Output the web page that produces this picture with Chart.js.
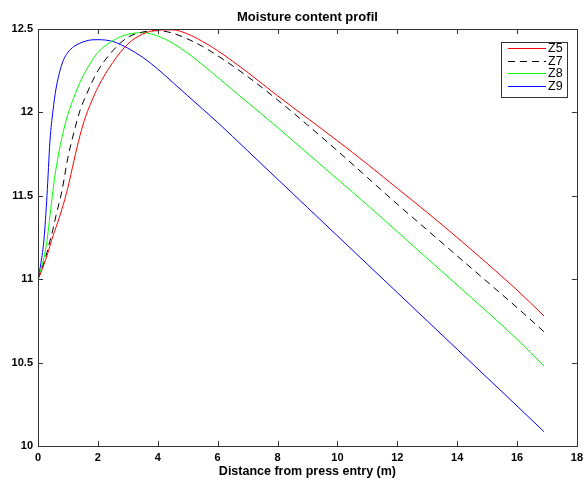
<!DOCTYPE html>
<html>
<head>
<meta charset="utf-8">
<script src="https://cdn.jsdelivr.net/npm/chart.js@4/dist/chart.umd.min.js"></script>
<style>
html,body{margin:0;padding:0;background:#fff;}
canvas{display:block;}
</style>
</head>
<body>
<canvas id="c" width="588" height="482"></canvas>
<script>
// Distance from press entry (m)
const distance = [0, 0.1, 0.2, 0.3, 0.4, 0.5, 0.6, 0.8, 1.0, 1.2, 1.4, 1.6, 1.8, 2.0, 2.5, 3.0, 3.5, 4.0, 4.5, 5.0, 5.5, 6.0, 7, 8, 9, 10, 11, 12, 13, 14, 15, 16, 16.9];
const z5 = [11.0, 11.04, 11.09, 11.14, 11.2, 11.26, 11.31, 11.42, 11.55, 11.71, 11.86, 11.98, 12.07, 12.15, 12.30, 12.41, 12.47, 12.493, 12.495, 12.47, 12.425, 12.37, 12.24, 12.1, 11.965, 11.83, 11.69, 11.545, 11.4, 11.25, 11.095, 10.935, 10.78];
const z7 = [11.0, 11.05, 11.1, 11.16, 11.23, 11.3, 11.38, 11.53, 11.73, 11.88, 12.01, 12.1, 12.18, 12.25, 12.37, 12.45, 12.482, 12.49, 12.475, 12.44, 12.395, 12.34, 12.215, 12.075, 11.925, 11.77, 11.61, 11.45, 11.295, 11.14, 10.985, 10.83, 10.685];
const z8 = [11.0, 11.06, 11.13, 11.23, 11.38, 11.53, 11.66, 11.85, 11.99, 12.09, 12.18, 12.25, 12.31, 12.36, 12.43, 12.468, 12.478, 12.458, 12.415, 12.355, 12.285, 12.21, 12.06, 11.91, 11.755, 11.6, 11.445, 11.285, 11.125, 10.965, 10.805, 10.64, 10.48];
const z9 = [11.0, 11.1, 11.24, 11.5, 11.83, 12.01, 12.14, 12.29, 12.36, 12.395, 12.415, 12.428, 12.435, 12.436, 12.425, 12.385, 12.33, 12.26, 12.18, 12.1, 12.02, 11.94, 11.77, 11.6, 11.43, 11.26, 11.09, 10.92, 10.75, 10.58, 10.41, 10.24, 10.086];
const seriesNames = ['Z5', 'Z7', 'Z8', 'Z9'];
const xTicks = [0, 2, 4, 6, 8, 10, 12, 14, 16, 18];
const yTicks = [10, 10.5, 11, 11.5, 12, 12.5];
const chartTitle = 'Moisture content profil';
const xTitle = 'Distance from press entry (m)';

const colors = ['#ff0000', '#000000', '#00ff00', '#0000ff'];
const dashes = [[], [7, 5], [], []];
const allSeries = [z5, z7, z8, z9];

const datasets = allSeries.map((s, k) => ({
  label: seriesNames[k],
  data: distance.map((x, i) => ({x: x, y: s[i]})),
  borderColor: colors[k],
  borderWidth: 1,
  borderDash: dashes[k],
  pointRadius: 0,
  fill: false,
  cubicInterpolationMode: 'monotone'
}));

const FONT = '"Liberation Sans", Arial, sans-serif';

const decor = {
  id: 'decor',
  afterDraw(chart) {
    const ctx = chart.ctx;
    const a = chart.chartArea;
    const xs = chart.scales.x, ys = chart.scales.y;
    ctx.save();
    // frame
    ctx.strokeStyle = '#333';
    ctx.lineWidth = 1;
    ctx.setLineDash([]);
    ctx.strokeRect(Math.round(a.left) + 0.5, Math.round(a.top) + 0.5, Math.round(a.right - a.left), Math.round(a.bottom - a.top));
    // inward ticks
    const tl = 5;
    ctx.beginPath();
    xs.ticks.forEach(t => {
      const px = Math.round(xs.getPixelForValue(t.value)) + 0.5;
      ctx.moveTo(px, a.bottom); ctx.lineTo(px, a.bottom - tl);
      ctx.moveTo(px, a.top); ctx.lineTo(px, a.top + tl);
    });
    ys.ticks.forEach(t => {
      const py = Math.round(ys.getPixelForValue(t.value)) + 0.5;
      ctx.moveTo(a.left, py); ctx.lineTo(a.left + tl, py);
      ctx.moveTo(a.right, py); ctx.lineTo(a.right - tl, py);
    });
    ctx.stroke();
    // title
    ctx.fillStyle = '#000';
    ctx.font = 'bold 13px ' + FONT;
    ctx.textAlign = 'center';
    ctx.textBaseline = 'middle';
    ctx.fillText(chartTitle, (a.left + a.right) / 2, 17);
    // x title
    ctx.font = 'bold 12.5px ' + FONT;
    ctx.fillText(xTitle, (a.left + a.right) / 2, 472);
    // legend
    const lx = 501.5, ly = 42.5, lw = 66, lh = 55;
    ctx.fillStyle = '#fff';
    ctx.fillRect(lx, ly, lw, lh);
    ctx.strokeStyle = '#333';
    ctx.strokeRect(lx, ly, lw, lh);
    ctx.font = '12.5px ' + FONT;
    ctx.textAlign = 'left';
    chart.data.datasets.forEach((d, i) => {
      const y = Math.round(48 + i * 12.7);
      ctx.lineWidth = 1;
      ctx.strokeStyle = d.borderColor;
      ctx.setLineDash(d.borderDash && d.borderDash.length ? d.borderDash : []);
      ctx.beginPath();
      ctx.moveTo(508, y + 0.5);
      ctx.lineTo(546, y + 0.5);
      ctx.stroke();
      ctx.setLineDash([]);
      ctx.fillStyle = '#000';
      ctx.fillText(d.label, 548, y + 0.5);
    });
    ctx.restore();
  }
};

new Chart(document.getElementById('c'), {
  type: 'line',
  data: {datasets: datasets},
  options: {
    responsive: false,
    animation: false,
    devicePixelRatio: 1,
    layout: {padding: {top: 29, right: 10, left: 0, bottom: 0}},
    plugins: {legend: {display: false}, title: {display: false}, tooltip: {enabled: false}},
    scales: {
      x: {
        type: 'linear', min: 0, max: 18,
        afterFit: s => { s.height = 36; },
        afterBuildTicks: s => { s.ticks = xTicks.map(v => ({value: v})); },
        grid: {display: false, drawTicks: false},
        border: {display: false},
        ticks: {padding: 5, maxRotation: 0, color: '#000', font: {family: FONT, size: 11, weight: 'bold'}, callback: v => String(v)}
      },
      y: {
        type: 'linear', min: 10, max: 12.5,
        afterFit: s => { s.width = 38; },
        afterBuildTicks: s => { s.ticks = yTicks.map(v => ({value: v})); },
        grid: {display: false, drawTicks: false},
        border: {display: false},
        ticks: {padding: 5, color: '#000', font: {family: FONT, size: 11, weight: 'bold'}, callback: v => String(v)}
      }
    }
  },
  plugins: [decor]
});
</script>
</body>
</html>
